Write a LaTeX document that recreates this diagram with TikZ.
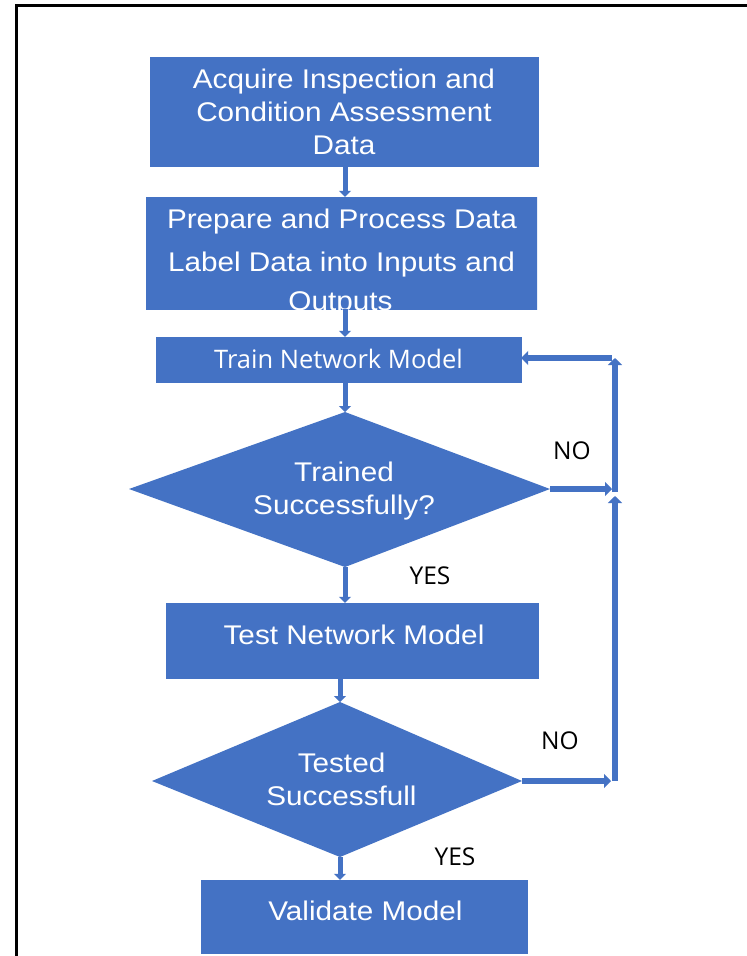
\documentclass[tikz,border=0pt]{standalone}
\usepackage{fontspec}
\setmainfont{Liberation Sans}[FakeStretch=1.1]
\newfontfamily\labelfont{Open Sans}
\usetikzlibrary{arrows.meta,calc}
\definecolor{boxblue}{HTML}{4472C4}
\begin{document}
\begin{tikzpicture}[x=1pt,y=-1pt,
  procbox/.style={fill=boxblue, draw=boxblue, inner sep=0pt, text=white, align=center,
                  font=\fontsize{27}{33}\selectfont},
  dtext/.style={text=white, align=center, inner sep=0pt, font=\fontsize{27}{33}\selectfont},
  ytext/.style={text=white, align=center, inner sep=0pt, font=\labelfont\fontsize{25.5}{30}\selectfont},
  lbl/.style={inner sep=0pt, text=black, font=\labelfont\fontsize{24.5}{28}\selectfont},
  flowarrow/.style={draw=boxblue, line width=5pt, -{Triangle[length=6pt,width=12pt]}},
  loopflow/.style={draw=boxblue, line width=6.5pt, -{Triangle[length=7pt,width=14pt]}}]
\useasboundingbox (0,0) rectangle (747,956);
\fill[white] (0,0) rectangle (747,956);
% frame
\draw[line width=3pt] (16.5,956) -- (16.5,5.5) -- (747,5.5);

% boxes
\node[procbox, minimum width=388pt, minimum height=109pt] (b1) at (344,111.5)
  {Acquire Inspection and\\Condition Assessment\\Data};

\begin{scope}
  \clip (146,197) rectangle (537,309);
  \node[procbox, minimum width=391pt, minimum height=112pt] (b2) at (341.5,253) {};
  \node[dtext, anchor=base] (b2a) at (342,228) {Prepare and Process Data};
  \node[dtext, anchor=base] (b2b) at (341.5,271) {Label Data into Inputs and};
  \node[dtext, anchor=base] (b2c) at (340.5,310) {Outputs};
\end{scope}

\node[procbox, minimum width=365pt, minimum height=45pt] (b3) at (338.5,359.5) {};
\node[ytext] (b3t) at (338.5,359) {Train Network Model};

% diamond 1
\coordinate (d1t) at (345,412);
\coordinate (d1l) at (129,489);
\coordinate (d1r) at (550,489);
\coordinate (d1b) at (345,567);
\fill[boxblue] (d1t) -- (d1r) -- (d1b) -- (d1l) -- cycle;
\node[dtext] (d1) at (344,490.7) {Trained\\Successfully?};

\node[procbox, minimum width=372pt, minimum height=75pt] (b4) at (352,640.5) {};
\node[dtext] (b4t) at (354,635) {Test Network Model};

% diamond 2
\coordinate (d2t) at (340,702);
\coordinate (d2l) at (152,781);
\coordinate (d2r) at (522,781);
\coordinate (d2b) at (340,857);
\fill[boxblue] (d2t) -- (d2r) -- (d2b) -- (d2l) -- cycle;
\node[dtext] (d2) at (341.5,779.5) {Tested\\Successfull};

\node[procbox, minimum width=326pt, minimum height=73pt] (b5) at (364,916.5) {};
\node[dtext] (b5t) at (365.5,911) {Validate Model};

% main flow
\draw[flowarrow] (b1.south -| d1t) -- (b2.north -| d1t);
\draw[flowarrow] (b2.south -| d1t) -- (b3.north -| d1t);
\draw[flowarrow] (b3.south -| d1t) -- (d1t);
\draw[flowarrow] (d1b) -- (b4.north -| d1b);
\draw[flowarrow] (b4.south -| d2t) -- (d2t);
\draw[flowarrow] (d2b) -- (b5.north -| d2b);

% loop back
\coordinate (lt) at (615,358);
\coordinate (lm) at (615,489);
\coordinate (lb) at (615,781);
\draw[loopflow, line width=5.5pt, shorten >=3pt] (d1r) -- (lm);
\draw[loopflow, shorten <=-3pt] (lm) -- (lt);
\draw[loopflow, shorten <=3pt] (lt) -- (lt -| b3.east);
\draw[loopflow, shorten >=7pt] (lb) -- (lm);
\draw[loopflow, line width=5.5pt, shorten >=4pt] (d2r) -- (lb);

% labels
\node[lbl] (no1) at (572,451) {NO};
\node[lbl] (yes1) at (430,576) {YES};
\node[lbl] (no2) at (560,741) {NO};
\node[lbl] (yes2) at (455,857) {YES};
\end{tikzpicture}
\end{document}
